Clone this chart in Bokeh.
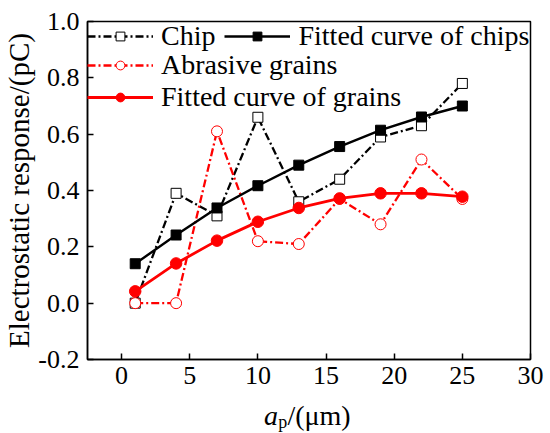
from bokeh.plotting import figure
from bokeh.layouts import column
from bokeh.models import Legend, LegendItem, Range1d, FixedTicker, PrintfTickFormatter
from bokeh.core.properties import value
from bokeh.embed import file_html
from bokeh.resources import INLINE

# ---- data ----
ap_um = [1, 4, 7, 10, 13, 16, 19, 22, 25]
chip = [0.00, 0.39, 0.31, 0.66, 0.36, 0.44, 0.59, 0.63, 0.78]
chip_fit = [0.14, 0.242, 0.338, 0.417, 0.49, 0.556, 0.614, 0.661, 0.70]
grain = [0.00, 0.00, 0.61, 0.22, 0.21, 0.37, 0.28, 0.51, 0.37]
grain_fit = [0.042, 0.141, 0.222, 0.289, 0.338, 0.372, 0.39, 0.39, 0.378]
x_ticks = [0, 5, 10, 15, 20, 25, 30]
y_ticks = [-0.2, 0.0, 0.2, 0.4, 0.6, 0.8, 1.0]
x_title_parts = ["a", "p", "/(μm)"]

FONT = "Liberation Serif"
RED = "#ff0000"

W = 550
H_MAIN, H_TITLE = 397, 36
BORDER_L, BORDER_R, BORDER_T, BORDER_B = 87, 20, 21, 38

xr = Range1d(-2.5, 30)
p = figure(width=W, height=H_MAIN, output_backend="svg", toolbar_location=None,
           x_range=xr, y_range=Range1d(-0.2, 1.0),
           min_border_left=BORDER_L, min_border_right=BORDER_R,
           min_border_top=BORDER_T, min_border_bottom=BORDER_B)

p.xgrid.visible = False
p.ygrid.visible = False
p.outline_line_color = "black"
p.outline_line_width = 1.5
p.background_fill_color = "white"
p.border_fill_color = "white"

for ax in (p.xaxis[0], p.yaxis[0]):
    ax.major_tick_in = 6
    ax.major_tick_out = 0
    ax.minor_tick_in = 0
    ax.minor_tick_out = 0
    ax.axis_line_width = 1.5
    ax.major_tick_line_width = 1.5
    ax.major_label_text_font = FONT
    ax.major_label_text_font_size = "26px"
    ax.major_label_text_color = "black"
    ax.axis_label_text_font = FONT
    ax.axis_label_text_font_size = "29px"
    ax.axis_label_text_font_style = "normal"
    ax.axis_label_text_color = "black"

p.xaxis.ticker = FixedTicker(ticks=x_ticks)
p.yaxis.ticker = FixedTicker(ticks=y_ticks)
p.yaxis.formatter = PrintfTickFormatter(format="%.1f")
p.xaxis.major_label_standoff = 7
p.yaxis.major_label_standoff = 8
p.yaxis.axis_label = "Electrostatic response/(pC)"
p.yaxis.axis_label_standoff = 0

DASHDOT = "8 3 2 3"

l1 = p.line(ap_um, chip, line_color="black", line_width=2.3, line_dash=DASHDOT)
s1 = p.scatter(ap_um, chip, marker="square", size=10, fill_color="white",
               line_color="black", line_width=1)
l3 = p.line(ap_um, grain, line_color=RED, line_width=2.3, line_dash=DASHDOT)
s3 = p.scatter(ap_um, grain, marker="circle", size=11, fill_color="white",
               line_color=RED, line_width=1)
l2 = p.line(ap_um, chip_fit, line_color="black", line_width=2.4)
s2 = p.scatter(ap_um, chip_fit, marker="square", size=10, fill_color="black",
               line_color="black")
l4 = p.line(ap_um, grain_fit, line_color=RED, line_width=2.8)
s4 = p.scatter(ap_um, grain_fit, marker="circle", size=11.5, fill_color=RED,
               line_color=RED)

def style(leg):
    leg.label_text_font = FONT
    leg.label_text_font_size = "28px"
    leg.label_text_color = "black"
    leg.border_line_alpha = 0
    leg.background_fill_alpha = 0
    leg.padding = 0
    leg.margin = 0
    leg.glyph_width = 66
    leg.glyph_height = 22
    leg.label_standoff = 8
    leg.label_height = 30

frame_h = H_MAIN - BORDER_T - BORDER_B
leg1 = Legend(items=[LegendItem(label="Chip", renderers=[l1, s1]),
                     LegendItem(label="Fitted curve of chips", renderers=[l2, s2])],
              orientation="horizontal", location=(0, frame_h - 31), spacing=9)
style(leg1)
leg2 = Legend(items=[LegendItem(label="Abrasive grains", renderers=[l3, s3]),
                     LegendItem(label="Fitted curve of grains", renderers=[l4, s4])],
              orientation="vertical", location=(0, frame_h - 92), spacing=0)
style(leg2)
p.add_layout(leg1)
p.add_layout(leg2)

# ---- x-axis title strip (italic a, subscript p, /(μm)) ----
t = figure(width=W, height=H_TITLE, output_backend="svg", toolbar_location=None,
           x_range=xr, y_range=Range1d(0, H_TITLE),
           x_axis_location=None, y_axis_location=None,
           min_border_left=BORDER_L, min_border_right=BORDER_R,
           min_border_top=0, min_border_bottom=0)
t.outline_line_color = None
t.background_fill_color = "white"
t.border_fill_color = "white"
t.grid.visible = False
t.text(x=[10.45], y=[18], text=[x_title_parts[0]], text_font=value(FONT),
       text_font_size=value("28px"), text_font_style=value("italic"),
       text_baseline=value("alphabetic"), text_color="black")
t.text(x=[11.5], y=[12], text=[x_title_parts[1]], text_font=value(FONT),
       text_font_size=value("18px"), text_font_style=value("normal"),
       text_baseline=value("alphabetic"), text_color="black")
t.text(x=[12.17], y=[18], text=[x_title_parts[2]], text_font=value(FONT),
       text_font_size=value("28px"), text_font_style=value("normal"),
       text_baseline=value("alphabetic"), text_color="black")

layout = column(p, t, spacing=0)
open("out.html", "w").write(file_html(layout, INLINE))
